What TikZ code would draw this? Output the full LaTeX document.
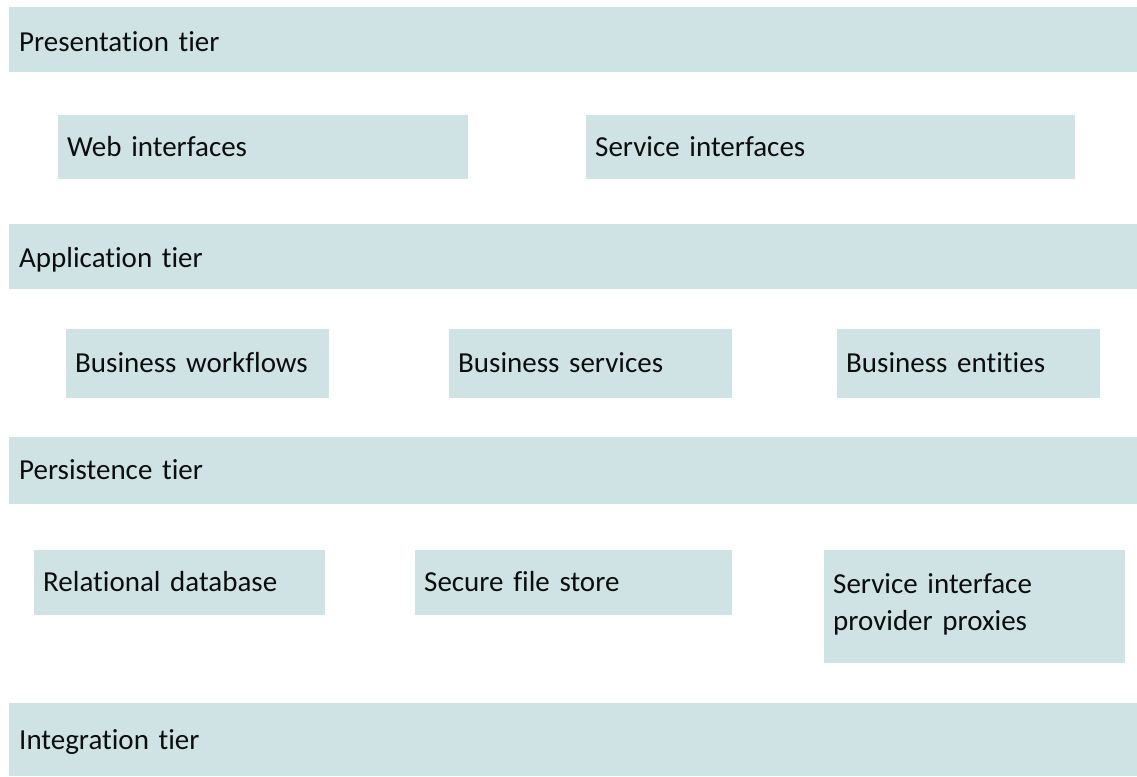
\documentclass[tikz,border=0pt]{standalone}
\usepackage{fontspec}
\setmainfont{Carlito}[Ligatures=NoCommon]
\usepackage{tikz}
\usetikzlibrary{positioning}
\definecolor{tierfill}{RGB}{207,227,228}
\definecolor{tiertext}{RGB}{13,13,13}
\tikzset{
  tierbar/.style={rectangle, fill=tierfill, anchor=north west,
    minimum width=1128pt, inner xsep=9pt, text=tiertext,
    font=\fontsize{29}{37}\selectfont, text height=18.5pt, text depth=0pt,
    text width=1108pt, align=left},
  compbox/.style={rectangle, fill=tierfill, anchor=north west,
    inner xsep=9pt, inner ysep=0pt, text=tiertext,
    font=\fontsize{29}{37}\selectfont, text height=18.5pt, text depth=0pt,
    align=left}
}

\begin{document}
\begin{tikzpicture}[x=1pt, y=-1pt]
  \useasboundingbox (0,0) rectangle (1137,776);

  % tiers
  \node[tierbar, minimum height=65pt, text height=24pt] (pres) at (9,7) {Presentation tier};
  \node[tierbar, minimum height=65pt, text height=22pt] (app) at (9,224) {Application tier};
  \node[tierbar, minimum height=67pt] (pers) at (9,437) {Persistence tier};
  \node[tierbar, minimum height=73pt, text height=20pt] (integ) at (9,703) {Integration tier};

  % presentation components
  \node[compbox, minimum width=410pt, minimum height=64pt, text width=392pt] (web) at (58,115) {Web interfaces};
  \node[compbox, minimum width=489pt, minimum height=64pt, text width=471pt] (svcif) at (586,115) {Service interfaces};

  % application components
  \node[compbox, minimum width=263pt, minimum height=69pt, text width=245pt] (bwf) at (66,329) {Business workflows};
  \node[compbox, minimum width=283pt, minimum height=69pt, text width=265pt] (bsvc) at (449,329) {Business services};
  \node[compbox, minimum width=263pt, minimum height=69pt, text width=245pt] (bent) at (837,329) {Business entities};

  % persistence components
  \node[compbox, minimum width=291pt, minimum height=65pt, text width=273pt] (rdb) at (34,550) {Relational database};
  \node[compbox, minimum width=317pt, minimum height=65pt, text width=299pt] (sfs) at (415,550) {Secure file store};
  \node[compbox, minimum width=301pt, minimum height=113pt, text width=283pt, text depth=45pt] (sipp) at (824,550) {Service interface\\provider proxies};
\end{tikzpicture}
\end{document}
